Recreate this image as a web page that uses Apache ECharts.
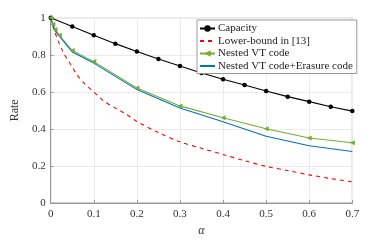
<!DOCTYPE html>
<html>
<head>
<meta charset="utf-8">
<script src="https://cdn.jsdelivr.net/npm/echarts@6/dist/echarts.min.js"></script>
<style>html,body{margin:0;padding:0;background:#fff}#c{width:389px;height:242px}</style>
</head>
<body>
<div id="c"></div>
<script>
var xTicks = [0, 0.1, 0.2, 0.3, 0.4, 0.5, 0.6, 0.7];
var yTicks = [0, 0.2, 0.4, 0.6, 0.8, 1];

var alphaCap = [0, 0.05, 0.1, 0.15, 0.2, 0.25, 0.3, 0.35, 0.4, 0.45, 0.5, 0.55, 0.6, 0.65, 0.7];
var capacity = [1, 0.953, 0.905, 0.86, 0.818, 0.777, 0.739, 0.702, 0.668, 0.637, 0.604, 0.574, 0.547, 0.519, 0.496];

var alphaLB = [0, 0.005, 0.01, 0.02, 0.03, 0.04, 0.05, 0.06, 0.08, 0.1, 0.125, 0.15, 0.175, 0.2, 0.25, 0.3, 0.35, 0.4, 0.45, 0.5, 0.55, 0.6, 0.65, 0.7];
var lowerBound = [1, 0.955, 0.92, 0.86, 0.81, 0.77, 0.735, 0.695, 0.64, 0.6, 0.547, 0.513, 0.48, 0.44, 0.38, 0.33, 0.295, 0.262, 0.228, 0.198, 0.175, 0.152, 0.132, 0.114];

var alphaVT = [0, 0.005, 0.01, 0.02, 0.05, 0.1, 0.2, 0.3, 0.4, 0.5, 0.6, 0.7];
var nestedVT = [1, 0.965, 0.936, 0.905, 0.823, 0.763, 0.621, 0.524, 0.46, 0.401, 0.351, 0.325];
var nestedVTErasure = [1, 0.96, 0.93, 0.9, 0.815, 0.755, 0.612, 0.513, 0.439, 0.36, 0.309, 0.278];

var names = ['Capacity', 'Lower-bound in [13]', 'Nested VT code', 'Nested VT code+Erasure code'];

function pairs(xs, ys) { return xs.map(function (x, i) { return [x, ys[i]]; }); }

var FONT = 'Liberation Serif';
var chart = echarts.init(document.getElementById('c'));
chart.setOption({
  animation: false,
  textStyle: { fontFamily: FONT },
  grid: { left: 50.7, right: 36.7, top: 17.7, bottom: 31.7, show: true, borderColor: '#999', borderWidth: 1, backgroundColor: 'transparent' },
  legend: {
    orient: 'vertical', left: 197, top: 20, padding: [3, 4, 2, 2], itemGap: 1.5,
    itemWidth: 15, itemHeight: 8, borderColor: '#999', borderWidth: 1, backgroundColor: '#fff',
    textStyle: { fontFamily: FONT, fontSize: 11, color: '#222', padding: [0, 0, 0, -2] },
    data: [
      { name: names[0] },
      { name: names[1], itemStyle: { color: 'transparent', borderWidth: 0 } },
      { name: names[2] },
      { name: names[3], itemStyle: { color: 'transparent', borderWidth: 0 } }
    ]
  },
  xAxis: {
    type: 'value', min: 0, max: 0.7, interval: 0.1,
    name: 'α', nameLocation: 'middle', nameGap: 22,
    nameTextStyle: { fontFamily: FONT, fontSize: 12, fontStyle: 'italic', color: '#333' },
    axisLine: { show: true, lineStyle: { color: '#999' } },
    axisTick: { show: true, inside: true, length: 3, lineStyle: { color: '#999' } },
    axisLabel: { fontFamily: FONT, fontSize: 11, color: '#333', margin: 6, formatter: function (v) { return String(+v.toFixed(1)); } },
    splitLine: { show: true, lineStyle: { color: '#ebebeb' } }
  },
  yAxis: {
    type: 'value', min: 0, max: 1, interval: 0.2,
    name: 'Rate', nameLocation: 'middle', nameGap: 21,
    nameTextStyle: { fontFamily: FONT, fontSize: 12, color: '#333' },
    axisLine: { show: true, lineStyle: { color: '#999' } },
    axisTick: { show: true, inside: true, length: 3, lineStyle: { color: '#999' } },
    axisLabel: { fontFamily: FONT, fontSize: 11, color: '#333', margin: 5, formatter: function (v) { return String(+v.toFixed(1)); } },
    splitLine: { show: true, lineStyle: { color: '#ebebeb' } }
  },
  series: [
    { name: names[0], type: 'line', data: pairs(alphaCap, capacity), color: '#000',
      symbol: 'circle', symbolSize: 4.5, lineStyle: { width: 1.1, color: '#000' }, itemStyle: { color: '#000' } },
    { name: names[1], type: 'line', data: pairs(alphaLB, lowerBound), color: '#ff0000', smooth: 0.3,
      symbol: 'none', lineStyle: { width: 1.1, type: [4, 4], color: '#ff0000' } },
    { name: names[2], type: 'line', data: pairs(alphaVT, nestedVT), color: '#77ac30',
      symbol: 'triangle', symbolRotate: 90, symbolSize: 5, lineStyle: { width: 1.1, color: '#77ac30' }, itemStyle: { color: '#77ac30' } },
    { name: names[3], type: 'line', data: pairs(alphaVT, nestedVTErasure), color: '#0072bd',
      symbol: 'none', lineStyle: { width: 1.1, color: '#0072bd' } }
  ]
});
</script>
</body>
</html>
